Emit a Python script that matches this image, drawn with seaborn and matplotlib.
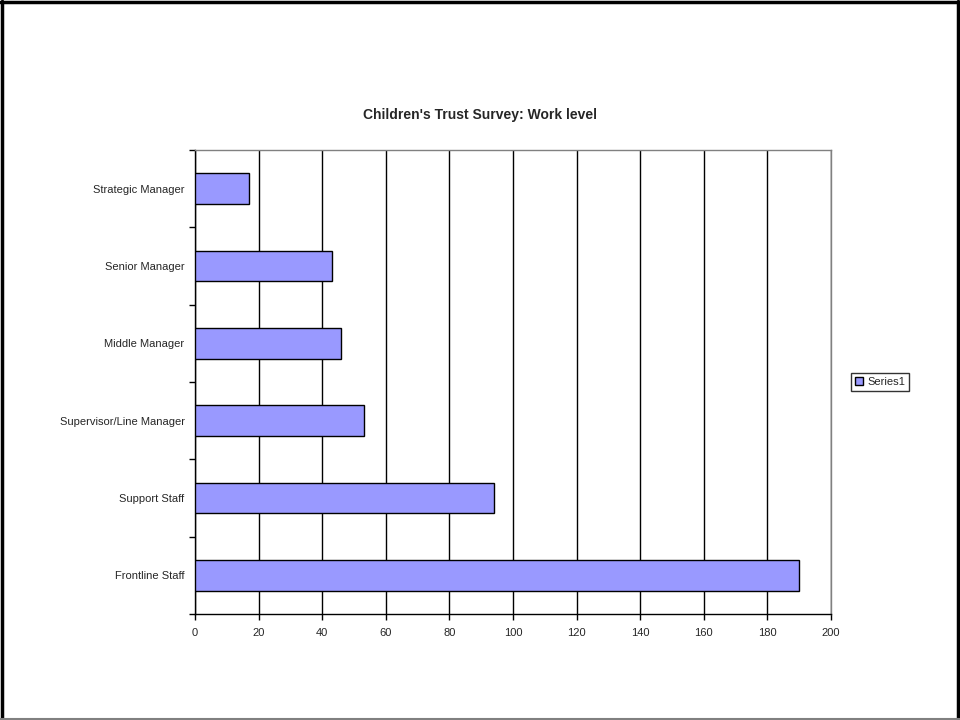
"""
Children's Trust Survey - work level bar chart
"""

import matplotlib
matplotlib.use("Agg")
import matplotlib.pyplot as plt
from matplotlib.lines import Line2D
from matplotlib.patches import Patch
import pandas as pd
import seaborn as sns

# ============================================================
# DATA
# ============================================================

work_levels = [
    "Strategic Manager",
    "Senior Manager",
    "Middle Manager",
    "Supervisor/Line Manager",
    "Support Staff",
    "Frontline Staff",
]
counts = [17, 43, 46, 53, 94, 190]
series_name = "Series1"
x_ticks = [0, 20, 40, 60, 80, 100, 120, 140, 160, 180, 200]

df = pd.DataFrame({"level": work_levels, "count": counts})

# ============================================================
# PLOT
# ============================================================

sns.set_style("white")
plt.rcParams["font.family"] = ["Liberation Sans", "DejaVu Sans"]

fig = plt.figure(figsize=(9.6, 7.2), dpi=100)
ax = fig.add_axes([195 / 960, 1 - 614 / 720, 636 / 960, 464 / 720])

bar_color = "#9999FF"
sns.barplot(data=df, x="count", y="level", orient="h", color=bar_color,
            saturation=1, edgecolor="black", linewidth=1, width=0.4,
            ax=ax, zorder=3)

ax.set_xlim(0, 200)
ax.set_ylim(5.5, -0.5)
ax.set_xticks(x_ticks)
ax.set_xticklabels([str(t) for t in x_ticks], fontsize=8)
ax.set_xlabel("")
ax.set_ylabel("")
ax.set_yticks([i - 0.5 for i in range(len(work_levels) + 1)], minor=True)
ax.tick_params(axis="y", which="major", left=True, length=0, labelsize=8, pad=7.5)
ax.tick_params(axis="y", which="minor", left=True, length=4, width=1,
               color="black", direction="out")
ax.tick_params(axis="x", which="major", bottom=True, length=4, width=1,
               color="black", direction="out", pad=6)

ax.xaxis.grid(True, color="black", linewidth=1)
ax.yaxis.grid(False)
ax.set_axisbelow(True)

for side in ["left", "bottom"]:
    ax.spines[side].set_color("black")
    ax.spines[side].set_linewidth(1)
for side in ["top", "right"]:
    ax.spines[side].set_color("#808080")
    ax.spines[side].set_linewidth(1)

fig.suptitle("Children's Trust Survey: Work level", x=480 / 960, y=1 - 108 / 720,
             fontsize=10, fontweight="bold")

handle = Patch(facecolor=bar_color, edgecolor="black", linewidth=1)
leg = fig.legend([handle], [series_name], loc="center left",
                 bbox_to_anchor=(851 / 960, 1 - 382 / 720),
                 fontsize=8, frameon=True, fancybox=False,
                 handlelength=0.7, handleheight=0.7, handletextpad=0.4,
                 borderpad=0.35, borderaxespad=0)
leg.get_frame().set_edgecolor("black")
leg.get_frame().set_linewidth(1)

# outer frame round the whole chart
frame_kw = dict(transform=fig.transFigure, linewidth=2.5)
fig.add_artist(Line2D([0.002, 0.002], [0, 0.998], color="black", **frame_kw))
fig.add_artist(Line2D([0, 0.998], [0.997, 0.997], color="black", **frame_kw))
fig.add_artist(Line2D([0.998, 0.998], [0, 0.998], color="black", **frame_kw))
fig.add_artist(Line2D([0, 1], [0.001, 0.001], color="#808080", linewidth=1.5,
                      transform=fig.transFigure))

fig.savefig("out.png", dpi=100)
